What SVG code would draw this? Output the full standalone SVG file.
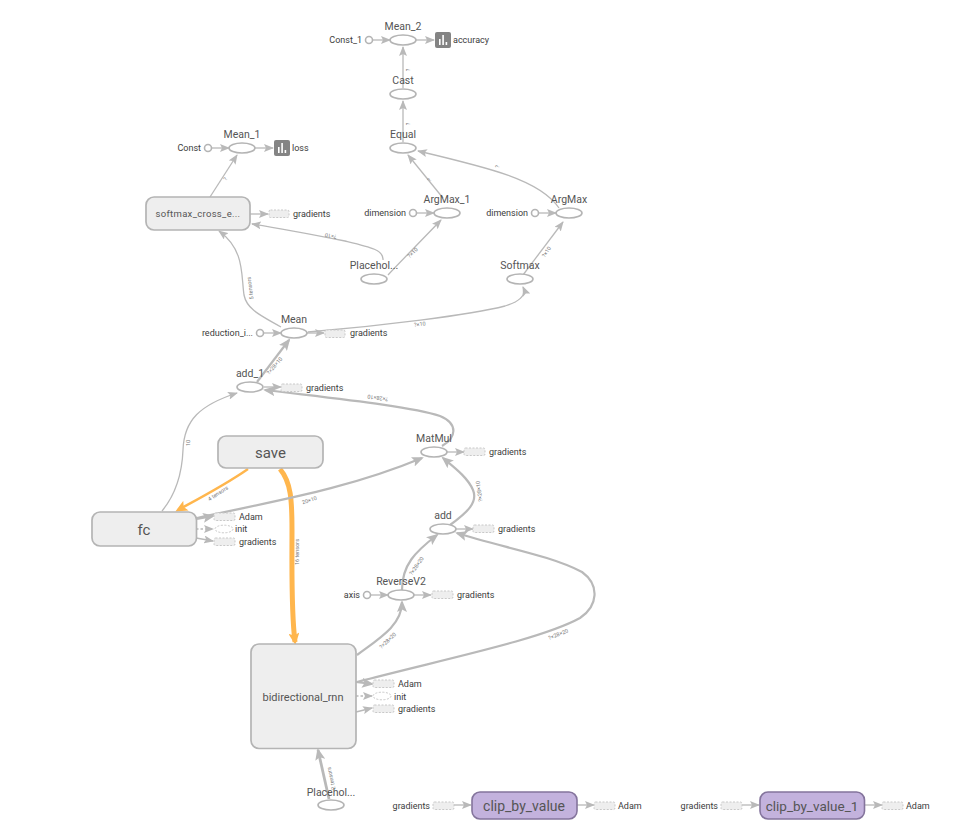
<svg xmlns="http://www.w3.org/2000/svg" width="959" height="838" viewBox="0 0 959 838">
<style>
text{font-family:Roboto,"Liberation Sans",sans-serif;fill:#3c3c3c}
.t{font-size:9px}
.n{font-size:10.5px;fill:#555;text-anchor:middle}
.b{text-anchor:middle;fill:#555}
.o{fill:#fff;stroke:#b4b4b4;stroke-width:1.6}
.box{fill:#eee;stroke:#b4b4b4;stroke-width:1.7}
.clip{fill:#c3b2dd;stroke:#84749c;stroke-width:1.6}
.aux{fill:#eee;stroke:#c8c8c8;stroke-width:1;stroke-dasharray:2 1.5}
.init{fill:#fff;stroke:#c8c8c8;stroke-width:1;stroke-dasharray:2 1.5}
.sum{fill:#848484}
.bar{fill:#fff}
#edges path{fill:none;stroke:#b9b9b9;stroke-width:1.3;marker-end:url(#arr)}
#edges path.w2{stroke-width:2.2;marker-end:url(#arrL)}
#edges path.w3{stroke-width:2.8;marker-end:url(#arrL)}
#edges path.dash{stroke-dasharray:2.5 2}
#edges path.s1{stroke:#ffb64d;stroke-width:2.4;marker-end:url(#arrO)}
#edges path.s2{stroke:#ffb64d;stroke-width:5;marker-end:url(#arrO)}
#edge-labels text{font-size:5.5px;fill:#777;text-anchor:middle}
</style>
<defs>
<marker id="arr" markerUnits="userSpaceOnUse" markerWidth="10" markerHeight="8" refX="9" refY="4" orient="auto"><path d="M0 0L10 4L0 8L2 4Z" fill="#b9b9b9"/></marker>
<marker id="arrL" markerUnits="userSpaceOnUse" markerWidth="12" markerHeight="10" refX="10" refY="5" orient="auto"><path d="M0 0L12 5L0 10L2.500 5Z" fill="#b9b9b9"/></marker>
<marker id="arrO" markerUnits="userSpaceOnUse" markerWidth="12" markerHeight="11" refX="9" refY="5.500" orient="auto"><path d="M0 0L12 5.500L0 11L2.500 5.500Z" fill="#ffb64d"/></marker>
</defs>
<rect width="959" height="838" fill="#fff"/>

<g id="edges">
<path d="M373 40H390"/>
<path d="M416 40H434"/>
<path d="M403 88V47"/>
<path d="M403 142V101"/>
<path d="M212 148H229"/>
<path d="M255 148H273"/>
<path d="M210 197L237 155"/>
<path d="M250 214H268"/>
<path d="M443 198L408 155"/>
<path d="M417 213H434"/>
<path d="M539 213H556"/>
<path d="M559 208C540 180 490 168 418 151"/>
<path d="M383 260C384 250 370 247 345 241C315 235 285 229 252 224"/>
<path d="M388 275C400 262 420 242 441 220"/>
<path d="M523 275L563 222"/>
<path d="M308 332C380 326 470 315 505 306C518 302 527 296 523 287"/>
<path d="M281 327C262 316 247 310 244 295C241 275 245 250 219 231"/>
<path d="M264 333H281"/>
<path d="M307 333H324"/>
<path class="w2" d="M257 382L289 340"/>
<path d="M264 387H281"/>
<path class="w2" d="M442 446C456 438 459 424 440 416C410 406 330 398 265 390"/>
<path d="M162 511C176 494 182 475 183 450C184 420 200 405 237 393"/>
<path class="s1" d="M248 469C225 485 200 498 178 510"/>
<path class="s2" d="M280 469C291 482 292 500 292 530C292 570 291 610 295 642"/>
<path class="w2" d="M197 518C280 500 350 488 422 458"/>
<path class="w2" d="M197 519L213 516"/>
<path class="dash" d="M196 529H213"/>
<path d="M196 538L213 541"/>
<path d="M447 452H464"/>
<path class="w2" d="M450 525C468 512 478 502 473 490C468 478 455 468 443 458"/>
<path d="M456 529H473"/>
<path class="w2" d="M402 590C402 565 415 552 437 535"/>
<path d="M371 595H388"/>
<path d="M414 595H431"/>
<path class="w2" d="M357 655C380 638 402 625 402 602"/>
<path class="w2" d="M357 682C440 660 540 640 580 618C598 606 600 585 582 572C550 555 500 547 457 533"/>
<path class="w2" d="M356 682L372 684"/>
<path class="dash" d="M356 696H372"/>
<path d="M356 712L372 708"/>
<path class="w3" d="M329 799L318 750"/>
<path d="M454 805H471"/>
<path d="M577 805H594"/>
<path d="M742 805H759"/>
<path d="M864 805H882"/>
</g>

<g id="edge-labels">
<text transform="translate(410 70) rotate(-90)">?</text>
<text transform="translate(410 124) rotate(-90)">?</text>
<text transform="translate(227 180) rotate(-58)">?</text>
<text transform="translate(431 181) rotate(-58)">?</text>
<text transform="translate(499 167) rotate(-74)">?</text>
<text transform="translate(331 234) rotate(190)">?×10</text>
<text transform="translate(414 254) rotate(-45)">?×10</text>
<text transform="translate(548 253) rotate(-55)">?×10</text>
<text transform="translate(252 288) rotate(-97)">5 tensors</text>
<text transform="translate(420 326) rotate(-7)">?×10</text>
<text transform="translate(276 367) rotate(-50)">?×28×10</text>
<text transform="translate(378 396) rotate(188)">?×28×10</text>
<text transform="translate(190 443) rotate(-88)">10</text>
<text transform="translate(219 495) rotate(-33)">4 tensors</text>
<text transform="translate(310 502) rotate(-18)">20×10</text>
<text transform="translate(299 552) rotate(-90)">16 tensors</text>
<text transform="translate(481 491) rotate(-98)">?×28×10</text>
<text transform="translate(418 567) rotate(-55)">?×28×20</text>
<text transform="translate(389 642) rotate(-43)">?×28×20</text>
<text transform="translate(559 636) rotate(-22)">?×28×20</text>
<text transform="translate(333 778) rotate(-102)">2 tensors</text>
</g>

<g id="Mean_2"><ellipse class="o" cx="403" cy="40" rx="13" ry="5"/><text class="n" x="403" y="30">Mean_2</text></g>
<g id="Const_1"><circle class="o" cx="369" cy="40" r="3.500"/><text class="t" x="362" y="43" text-anchor="end">Const_1</text></g>
<g id="accuracy"><rect class="sum" x="435" y="32" width="16" height="16" rx="2"/><path class="bar" d="M439 39h1.600v6H439zM442.300 35h1.600v10h-1.600zM445.600 42h1.600v3h-1.600z"/><text class="t" x="453" y="43">accuracy</text></g>
<g id="Cast"><ellipse class="o" cx="403" cy="94" rx="13" ry="5"/><text class="n" x="403" y="84">Cast</text></g>
<g id="Equal"><ellipse class="o" cx="403" cy="148" rx="13" ry="5"/><text class="n" x="403" y="138">Equal</text></g>
<g id="Mean_1"><ellipse class="o" cx="242" cy="148" rx="13" ry="5"/><text class="n" x="242" y="138">Mean_1</text></g>
<g id="Const"><circle class="o" cx="208" cy="148" r="3.500"/><text class="t" x="201" y="151" text-anchor="end">Const</text></g>
<g id="loss"><rect class="sum" x="274" y="140" width="16" height="16" rx="2"/><path class="bar" d="M278 147h1.600v6H278zM281.300 143h1.600v10h-1.600zM284.600 150h1.600v3h-1.600z"/><text class="t" x="292" y="151">loss</text></g>
<g id="softmax_cross_entropy"><rect class="box" x="146" y="197" width="104" height="33" rx="8"/><text class="b" x="198" y="217" font-size="9.500" letter-spacing=".3">softmax_cross_e...</text></g>
<g id="softmax_gradients"><rect class="aux" x="269" y="210" width="20" height="7.500" rx="1.500"/><text class="t" x="293" y="217">gradients</text></g>
<g id="ArgMax_1"><ellipse class="o" cx="447" cy="213" rx="13" ry="5"/><text class="n" x="447" y="203">ArgMax_1</text></g>
<g id="dimension_1"><circle class="o" cx="413" cy="213" r="3.500"/><text class="t" x="406" y="216" text-anchor="end">dimension</text></g>
<g id="ArgMax"><ellipse class="o" cx="569" cy="213" rx="13" ry="5"/><text class="n" x="569" y="203">ArgMax</text></g>
<g id="dimension"><circle class="o" cx="535" cy="213" r="3.500"/><text class="t" x="528" y="216" text-anchor="end">dimension</text></g>
<g id="Placeholder_1"><ellipse class="o" cx="374" cy="279" rx="13" ry="5"/><text class="n" x="374" y="269">Placehol...</text></g>
<g id="Softmax"><ellipse class="o" cx="520" cy="279" rx="13" ry="5"/><text class="n" x="520" y="269">Softmax</text></g>
<g id="Mean"><ellipse class="o" cx="294" cy="333" rx="13" ry="5"/><text class="n" x="294" y="323">Mean</text></g>
<g id="reduction_indices"><circle class="o" cx="260" cy="333" r="3.500"/><text class="t" x="253" y="336" text-anchor="end">reduction_i...</text></g>
<g id="Mean_gradients"><rect class="aux" x="325" y="330" width="20" height="7.500" rx="1.500"/><text class="t" x="350" y="336">gradients</text></g>
<g id="add_1"><ellipse class="o" cx="250" cy="387" rx="13" ry="5"/><text class="n" x="250" y="377">add_1</text></g>
<g id="add_1_gradients"><rect class="aux" x="281" y="384" width="21" height="7.500" rx="1.500"/><text class="t" x="306" y="391">gradients</text></g>
<g id="save"><rect class="box" x="218" y="436" width="105" height="32" rx="8"/><text class="b" x="270.500" y="458" font-size="15">save</text></g>
<g id="MatMul"><ellipse class="o" cx="434" cy="452" rx="13" ry="5"/><text class="n" x="434" y="442">MatMul</text></g>
<g id="MatMul_gradients"><rect class="aux" x="464" y="448" width="21" height="7.500" rx="1.500"/><text class="t" x="489" y="455">gradients</text></g>
<g id="fc"><rect class="box" x="92" y="512" width="104.500" height="34" rx="8"/><text class="b" x="144" y="535" font-size="15">fc</text></g>
<g id="fc_Adam"><rect class="aux" x="214" y="513" width="21" height="7.500" rx="1.500"/><text class="t" x="239" y="520">Adam</text></g>
<g id="fc_init"><ellipse class="init" cx="224" cy="529" rx="9" ry="3.800"/><text class="t" x="235" y="532">init</text></g>
<g id="fc_gradients"><rect class="aux" x="214" y="538" width="21" height="7.500" rx="1.500"/><text class="t" x="239" y="545">gradients</text></g>
<g id="add"><ellipse class="o" cx="443" cy="529" rx="13" ry="5"/><text class="n" x="443" y="519">add</text></g>
<g id="add_gradients"><rect class="aux" x="473" y="525" width="21" height="7.500" rx="1.500"/><text class="t" x="498" y="532">gradients</text></g>
<g id="ReverseV2"><ellipse class="o" cx="401" cy="595" rx="13" ry="5"/><text class="n" x="401" y="585">ReverseV2</text></g>
<g id="axis"><circle class="o" cx="367" cy="595" r="3.500"/><text class="t" x="360" y="598" text-anchor="end">axis</text></g>
<g id="ReverseV2_gradients"><rect class="aux" x="432" y="591" width="21" height="7.500" rx="1.500"/><text class="t" x="457" y="598">gradients</text></g>
<g id="bidirectional_rnn"><rect class="box" x="251" y="644" width="105" height="104.500" rx="8"/><text class="b" x="303" y="701" font-size="11">bidirectional_rnn</text></g>
<g id="rnn_Adam"><rect class="aux" x="373" y="680" width="21" height="7.500" rx="1.500"/><text class="t" x="398" y="687">Adam</text></g>
<g id="rnn_init"><ellipse class="init" cx="382" cy="696" rx="9" ry="3.800"/><text class="t" x="394" y="700">init</text></g>
<g id="rnn_gradients"><rect class="aux" x="373" y="705" width="21" height="7.500" rx="1.500"/><text class="t" x="398" y="712">gradients</text></g>
<g id="Placeholder"><ellipse class="o" cx="331" cy="805" rx="13" ry="5"/><text class="n" x="331" y="796">Placehol...</text></g>
<g id="clip_gradients"><rect class="aux" x="433" y="802" width="21" height="7.500" rx="1.500"/><text class="t" x="430" y="809" text-anchor="end">gradients</text></g>
<g id="clip_by_value"><rect class="clip" x="472" y="792" width="105" height="27" rx="8"/><text class="b" x="524" y="811" font-size="14">clip_by_value</text></g>
<g id="clip_Adam"><rect class="aux" x="594" y="802" width="21" height="7.500" rx="1.500"/><text class="t" x="618" y="809">Adam</text></g>
<g id="clip_1_gradients"><rect class="aux" x="721" y="802" width="21" height="7.500" rx="1.500"/><text class="t" x="718" y="809" text-anchor="end">gradients</text></g>
<g id="clip_by_value_1"><rect class="clip" x="760" y="792" width="104.500" height="27" rx="8"/><text class="b" x="812" y="811" font-size="13.500">clip_by_value_1</text></g>
<g id="clip_1_Adam"><rect class="aux" x="882" y="802" width="21" height="7.500" rx="1.500"/><text class="t" x="906" y="809">Adam</text></g>
</svg>
